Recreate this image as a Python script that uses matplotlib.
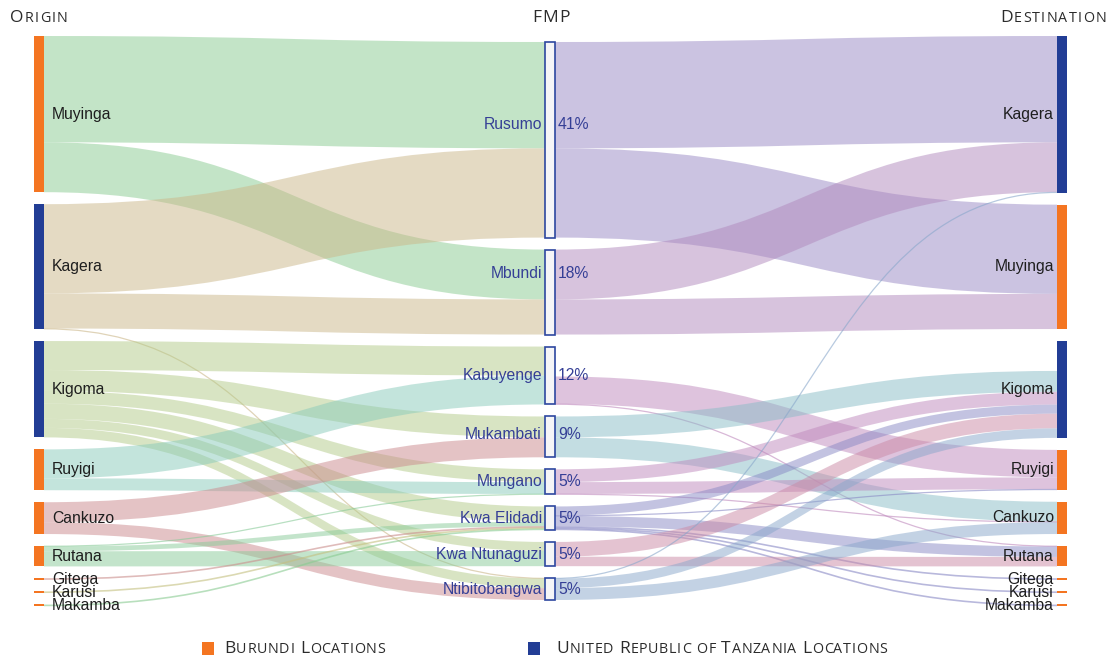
import matplotlib.pyplot as plt
from matplotlib.path import Path
from matplotlib.patches import PathPatch, Rectangle
from matplotlib.offsetbox import TextArea, HPacker, AnnotationBbox

# nodes
origins = ['Muyinga', 'Kagera', 'Kigoma', 'Ruyigi', 'Cankuzo', 'Rutana', 'Gitega', 'Karusi', 'Makamba']
origin_country = ['BDI', 'TZA', 'TZA', 'BDI', 'BDI', 'BDI', 'BDI', 'BDI', 'BDI']
fmps = ['Rusumo', 'Mbundi', 'Kabuyenge', 'Mukambati', 'Mungano', 'Kwa Elidadi', 'Kwa Ntunaguzi', 'Ntibitobangwa']
destinations = ['Kagera', 'Muyinga', 'Kigoma', 'Ruyigi', 'Cankuzo', 'Rutana', 'Gitega', 'Karusi', 'Makamba']
dest_country = ['TZA', 'BDI', 'TZA', 'BDI', 'BDI', 'BDI', 'BDI', 'BDI', 'BDI']

# origin -> FMP flows (share of all movements, %)
in_src = ['Muyinga', 'Muyinga', 'Kagera', 'Kagera', 'Kagera',
          'Kigoma', 'Kigoma', 'Kigoma', 'Kigoma', 'Kigoma', 'Kigoma',
          'Ruyigi', 'Ruyigi', 'Cankuzo', 'Cankuzo',
          'Rutana', 'Rutana', 'Rutana', 'Gitega', 'Karusi', 'Makamba']
in_dst = ['Rusumo', 'Mbundi', 'Rusumo', 'Mbundi', 'Ntibitobangwa',
          'Kabuyenge', 'Mukambati', 'Mungano', 'Kwa Elidadi', 'Kwa Ntunaguzi', 'Ntibitobangwa',
          'Kabuyenge', 'Mungano', 'Mukambati', 'Ntibitobangwa',
          'Mungano', 'Kwa Elidadi', 'Kwa Ntunaguzi', 'Kwa Elidadi', 'Kwa Elidadi', 'Kwa Elidadi']
in_val = [22.4, 10.5, 18.8, 7.4, 0.1,
          6.1, 4.4, 2.7, 3.2, 1.9, 2.0,
          6.1, 2.5, 4.2, 2.5,
          0.1, 1.0, 3.2, 0.25, 0.25, 0.25]

# FMP -> destination flows (%)
out_src = ['Rusumo', 'Rusumo', 'Mbundi', 'Mbundi',
           'Kabuyenge', 'Kabuyenge', 'Kabuyenge',
           'Mukambati', 'Mukambati', 'Mungano', 'Mungano', 'Mungano',
           'Kwa Elidadi', 'Kwa Elidadi', 'Kwa Elidadi', 'Kwa Elidadi', 'Kwa Elidadi', 'Kwa Elidadi',
           'Kwa Ntunaguzi', 'Kwa Ntunaguzi', 'Ntibitobangwa', 'Ntibitobangwa', 'Ntibitobangwa']
out_dst = ['Kagera', 'Muyinga', 'Kagera', 'Muyinga',
           'Kigoma', 'Ruyigi', 'Rutana',
           'Kigoma', 'Cankuzo', 'Kigoma', 'Ruyigi', 'Cankuzo',
           'Kigoma', 'Ruyigi', 'Rutana', 'Gitega', 'Karusi', 'Makamba',
           'Kigoma', 'Rutana', 'Kagera', 'Kigoma', 'Cankuzo']
out_val = [22.4, 18.8, 10.5, 7.4,
           6.3, 5.8, 0.1,
           4.4, 4.2, 2.7, 2.5, 0.1,
           1.9, 0.1, 2.2, 0.25, 0.25, 0.25,
           3.1, 2.0, 0.1, 2.0, 2.5]
# the Kabuyenge -> Kigoma band is not drawn in the original
out_shown = [True] * len(out_val)
out_shown[4] = False

# link colours
origin_colors = {'Muyinga': '#89cb91', 'Kagera': '#cbb789', 'Kigoma': '#b3cb89',
                 'Ruyigi': '#89cbbb', 'Cankuzo': '#cb898d', 'Rutana': '#89cb99',
                 'Gitega': '#cb8f8d', 'Karusi': '#c4c080', 'Makamba': '#89cb91'}
fmp_colors = {'Rusumo': '#9989c5', 'Mbundi': '#b189bd', 'Kabuyenge': '#bf89bd',
              'Mukambati': '#89bdc7', 'Mungano': '#bf89bd', 'Kwa Elidadi': '#8989c5',
              'Kwa Ntunaguzi': '#cb89a5', 'Ntibitobangwa': '#89a7cb'}
country_colors = {'BDI': '#f47521', 'TZA': '#223d95'}
fmp_label_shift = [-15.5, -18.5, 0, -2, 0, 0, 0, 0]

W, H = 1107, 657
TOP, BOTTOM, PAD = 36, 606, 12
X_LEFT, X_MID, X_RIGHT, NODE_W = 34, 545, 1057, 10

fig = plt.figure(figsize=(W / 100, H / 100), dpi=100)
ax = fig.add_axes([0, 0, 1, 1])
ax.set_xlim(0, W)
ax.set_ylim(H, 0)
ax.axis('off')


def sums(names, keys, vals):
    return [sum(v for k, v in zip(keys, vals) if k == n) for n in names]


left_sizes = sums(origins, in_src, in_val)
mid_sizes = [max(a, b) for a, b in zip(sums(fmps, in_dst, in_val), sums(fmps, out_src, out_val))]
right_sizes = sums(destinations, out_dst, out_val)
total = sum(left_sizes)

k = min((BOTTOM - TOP - PAD * (len(s) - 1)) / sum(s) for s in (left_sizes, mid_sizes, right_sizes))


def column_layout(names, sizes):
    span = sum(sizes) * k + PAD * (len(sizes) - 1)
    y = (TOP + BOTTOM) / 2 - span / 2
    pos = {}
    for n, s in zip(names, sizes):
        pos[n] = (y, y + s * k)
        y += s * k + PAD
    return pos


left_pos = column_layout(origins, left_sizes)
mid_pos = column_layout(fmps, mid_sizes)
right_pos = column_layout(destinations, right_sizes)


def center(p):
    return (p[0] + p[1]) / 2


def draw_links(srcs, dsts, vals, spos, dpos, x0, x1, colors, shown):
    n = len(vals)
    a = [None] * n
    b = [None] * n
    for name in spos:
        idx = sorted([i for i in range(n) if srcs[i] == name], key=lambda i: center(dpos[dsts[i]]))
        y = spos[name][0]
        for i in idx:
            a[i] = (y, y + vals[i] * k)
            y += vals[i] * k
    for name in dpos:
        idx = sorted([i for i in range(n) if dsts[i] == name], key=lambda i: center(spos[srcs[i]]))
        y = dpos[name][0]
        for i in idx:
            b[i] = (y, y + vals[i] * k)
            y += vals[i] * k
    xm = (x0 + x1) / 2
    for i in range(n):
        if not shown[i]:
            continue
        (a0, a1), (b0, b1) = a[i], b[i]
        col = colors[i]
        if a1 - a0 < 1.3:
            ya, yb = (a0 + a1) / 2, (b0 + b1) / 2
            path = Path([(x0, ya), (xm, ya), (xm, yb), (x1, yb)],
                        [Path.MOVETO, Path.CURVE4, Path.CURVE4, Path.CURVE4])
            ax.add_patch(PathPatch(path, fc='none', ec=col, lw=max(a1 - a0, 0.9), alpha=0.6))
            continue
        verts = [(x0, a0), (xm, a0), (xm, b0), (x1, b0), (x1, b1),
                 (xm, b1), (xm, a1), (x0, a1), (x0, a0)]
        codes = [Path.MOVETO, Path.CURVE4, Path.CURVE4, Path.CURVE4, Path.LINETO,
                 Path.CURVE4, Path.CURVE4, Path.CURVE4, Path.CLOSEPOLY]
        ax.add_patch(PathPatch(Path(verts, codes), fc=col, ec='none', alpha=0.5))


draw_links(in_src, in_dst, in_val, left_pos, mid_pos, X_LEFT + NODE_W, X_MID,
           [origin_colors[s] for s in in_src], [True] * len(in_val))
draw_links(out_src, out_dst, out_val, mid_pos, right_pos, X_MID + NODE_W, X_RIGHT,
           [fmp_colors[s] for s in out_src], out_shown)

label_font = dict(family=['Liberation Sans', 'DejaVu Sans'], size=11.3)

for name, c in zip(origins, origin_country):
    y0, y1 = left_pos[name]
    h = max(y1 - y0, 2)
    yc = center(left_pos[name])
    ax.add_patch(Rectangle((X_LEFT, yc - h / 2), NODE_W, h, fc=country_colors[c], ec='none'))
    ax.text(X_LEFT + 18, yc, name, ha='left', va='center', color='#1e1e1e', **label_font)

for name, c in zip(destinations, dest_country):
    y0, y1 = right_pos[name]
    h = max(y1 - y0, 2)
    yc = center(right_pos[name])
    ax.add_patch(Rectangle((X_RIGHT, yc - h / 2), NODE_W, h, fc=country_colors[c], ec='none'))
    ax.text(X_RIGHT - 3, yc, name, ha='right', va='center', color='#1e1e1e', **label_font)

for name, size, dy in zip(fmps, mid_sizes, fmp_label_shift):
    y0, y1 = mid_pos[name]
    ax.add_patch(Rectangle((X_MID, y0), NODE_W, y1 - y0, fc='#f5f5f7', ec='#2d47a0', lw=1.2))
    yc = center(mid_pos[name]) + dy
    ax.text(X_MID - 3, yc, name, ha='right', va='center', color='#353f96', **label_font)
    ax.text(X_MID + NODE_W + 3, yc, '%d%%' % round(size / total * 100), ha='left', va='center',
            color='#353f96', **label_font)


def small_caps(x, y, text, align, big=12.5, small=10.3, track=0.5, color='#2b2b2b'):
    words = []
    for w in text.split(' '):
        chars = [TextArea(ch.upper(), textprops=dict(size=big if ch.isupper() else small, color=color,
                                                      family=['Open Sans', 'DejaVu Sans']))
                 for ch in w]
        words.append(HPacker(children=chars, align='baseline', pad=0, sep=track))
    box = HPacker(children=words, align='baseline', pad=0, sep=small * 0.4)
    ax.add_artist(AnnotationBbox(box, (x, y), xycoords='data', frameon=False, pad=0,
                                 box_alignment=(align, 0.5)))


small_caps(10, 18, 'Origin', 0, track=0.9)
small_caps(551, 18, 'FMP', 0.5, track=0.9)
small_caps(W - 1, 18, 'Destination', 1, track=0.9)

# legend
ax.add_patch(Rectangle((202, 642), 12, 13, fc=country_colors['BDI'], ec='none'))
small_caps(224, 649, 'Burundi Locations', 0)
ax.add_patch(Rectangle((528, 642), 12, 13, fc=country_colors['TZA'], ec='none'))
small_caps(556, 649, 'United Republic of Tanzania Locations', 0)

fig.savefig('out.png', dpi=100)
